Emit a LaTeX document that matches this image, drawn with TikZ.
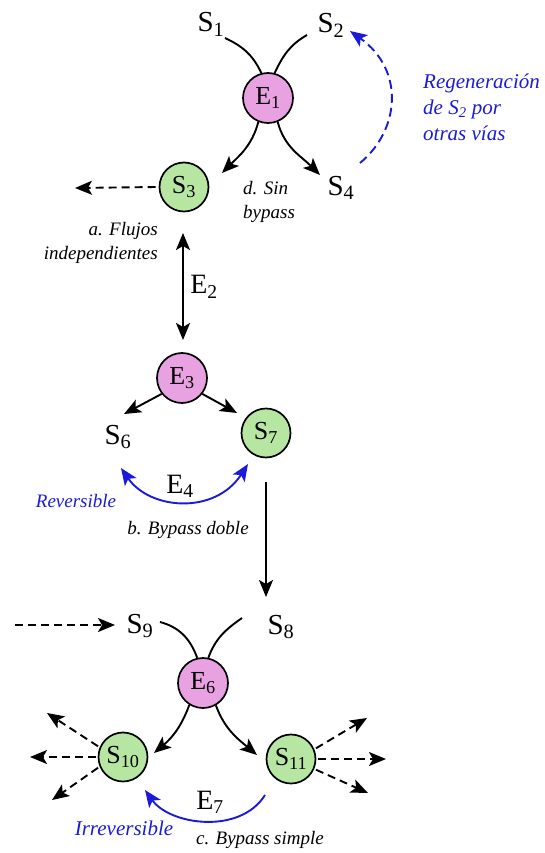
\documentclass[tikz,border=0pt]{standalone}
\usepackage{fontspec}
\setmainfont{Liberation Serif}
\usetikzlibrary{arrows.meta}
\definecolor{pinkc}{HTML}{E8A2E2}
\definecolor{greenc}{HTML}{B6E6A2}
\definecolor{bluec}{HTML}{1A1AD8}
\newcommand{\sbs}[1]{\textsubscript{#1}}
\tikzset{
  tip/.tip={Stealth[length=17pt,width=14pt,inset=4pt]},
  enz/.style={circle, draw, line width=1.7pt, fill=pinkc, minimum size=50pt, inner sep=0pt, font=\fontsize{26}{28}\selectfont},
  met/.style={circle, draw, line width=1.7pt, fill=greenc, minimum size=49pt, inner sep=0pt, font=\fontsize{26}{28}\selectfont},
  lab/.style={inner sep=1pt, font=\fontsize{29}{31}\selectfont},
  note/.style={inner sep=0pt, font=\fontsize{19}{24}\selectfont\itshape},
  bnote/.style={inner sep=0pt, text=bluec, font=\fontsize{21}{26}\selectfont\itshape},
  ln/.style={line width=1.9pt},
  arr/.style={line width=1.9pt, -tip},
  darr/.style={line width=1.9pt, dash pattern=on 8pt off 5pt, -tip},
  barr/.style={line width=1.9pt, draw=bluec, tip-tip},
  bsarr/.style={line width=1.9pt, draw=bluec, tip-},
  bdarr/.style={line width=1.9pt, draw=bluec, dash pattern=on 9pt off 5pt, -tip},
}
\begin{document}
\begin{tikzpicture}[x=1pt,y=1pt]
\useasboundingbox (0,0) rectangle (544,-853);

% ---- d. Sin bypass ----
\node[lab] (S1) at (211,-24) {S\sbs{1}};
\node[lab] (S2) at (331,-25) {S\sbs{2}};
\node[enz] (E1) at (268,-98) {E\sbs{1}};
\node[met] (S3) at (184,-187) {S\sbs{3}};
\node[lab] (S4) at (341,-188) {S\sbs{4}};
\coordinate (s1c) at (225,-38);
\coordinate (s2c) at (307,-35);
\coordinate (a1) at (75,-188);
\coordinate (t3) at (222,-173);
\coordinate (t4) at (320,-175);
\coordinate (bst) at (360,-163);
\coordinate (bsp) at (350,-31);

\draw[ln] (s1c) to[out=-25,in=115] (E1.105);
\draw[ln] (s2c) to[out=-150,in=65] (E1.75);
\draw[arr] (E1.248) to[out=-105,in=45] (t3);
\draw[arr] (E1.292) to[out=-75,in=135] (t4);
\draw[darr] ([xshift=-3pt]S3.west) -- (a1);
\draw[bdarr] (bst) .. controls (400,-130) and (405,-70) .. (bsp);

\node[note, anchor=north west, align=left] (nd) at (243,-181) {d. Sin\\bypass};
\node[note, anchor=north east, align=right] (na) at (158,-222) {a. Flujos\\independientes};
\node[bnote, anchor=north west, align=left] (nr) at (423,-74) {Regeneración\\de S\sbs{2} por\\otras vías};

% ---- E2 ----
\node[enz] (E3) at (182,-378) {E\sbs{3}};
\coordinate (e2t) at (183,-233);
\coordinate (e2b) at (183,-340);
\draw[line width=1.9pt, tip-tip] (e2t) -- (e2b);
\node[lab, font=\fontsize{28}{30}\selectfont] (E2) at (204,-287) {E\sbs{2}};

% ---- b. Bypass doble ----
\node[lab] (S6) at (118,-437) {S\sbs{6}};
\node[met] (S7) at (266,-433) {S\sbs{7}};
\coordinate (t6) at (124,-414);
\coordinate (t7) at (237,-413);
\draw[arr] (E3.218) -- (t6);
\draw[arr] (E3.322) -- (t7);
\coordinate (b4l) at (121,-468);
\coordinate (b4r) at (248,-464);
\draw[barr] (b4l) .. controls (150,-510) and (215,-515) .. (b4r);
\node[lab, font=\fontsize{28}{30}\selectfont] (E4) at (180,-486) {E\sbs{4}};
\node[bnote, font=\fontsize{19}{24}\selectfont\itshape] (rev) at (76,-501) {Reversible};
\node[note] (nb) at (188,-530) {b. Bypass doble};

\coordinate (v1) at (266,-482);
\coordinate (v2) at (266,-597);
\draw[arr] (v1) -- (v2);

% ---- c. Bypass simple ----
\node[lab] (S9) at (140,-626) {S\sbs{9}};
\node[lab] (S8) at (281,-627) {S\sbs{8}};
\node[enz] (E6) at (203,-683) {E\sbs{6}};
\node[met] (S10) at (123,-757) {S\sbs{10}};
\node[met] (S11) at (291,-759) {S\sbs{11}};
\coordinate (s9c) at (160,-622);
\coordinate (s8c) at (242,-618);
\coordinate (d9) at (15,-625);
\coordinate (t9) at (115,-625);
\draw[darr] (d9) -- (t9);
\draw[ln] (s9c) to[out=-15,in=110] (E6.103);
\draw[ln] (s8c) to[out=-145,in=70] (E6.78);
\coordinate (t10) at (154,-753);
\coordinate (t11) at (257,-755);
\draw[arr] (E6.238) to[out=-110,in=40] (t10);
\draw[arr] (E6.300) to[out=-70,in=140] (t11);

\coordinate (o1) at (47,-713);
\coordinate (o2) at (30,-757);
\coordinate (o3) at (52,-800);
\draw[darr] ([xshift=-2pt]S10.155) -- (o1);
\draw[darr] ([xshift=-2pt]S10.west) -- (o2);
\draw[darr] ([xshift=-2pt]S10.205) -- (o3);
\coordinate (p1) at (367,-718);
\coordinate (p2) at (386,-759);
\coordinate (p3) at (368,-793);
\draw[darr] ([xshift=2pt]S11.25) -- (p1);
\draw[darr] ([xshift=2pt]S11.east) -- (p2);
\draw[darr] ([xshift=2pt]S11.335) -- (p3);

\coordinate (b7l) at (145,-790);
\coordinate (b7r) at (265,-795);
\draw[bsarr] (b7l) .. controls (170,-825) and (240,-835) .. (b7r);
\node[lab, font=\fontsize{28}{30}\selectfont] (E7) at (210,-802) {E\sbs{7}};
\node[bnote] (irr) at (124,-828) {Irreversible};
\node[note] (nc) at (260,-840) {c. Bypass simple};
\end{tikzpicture}
\end{document}
